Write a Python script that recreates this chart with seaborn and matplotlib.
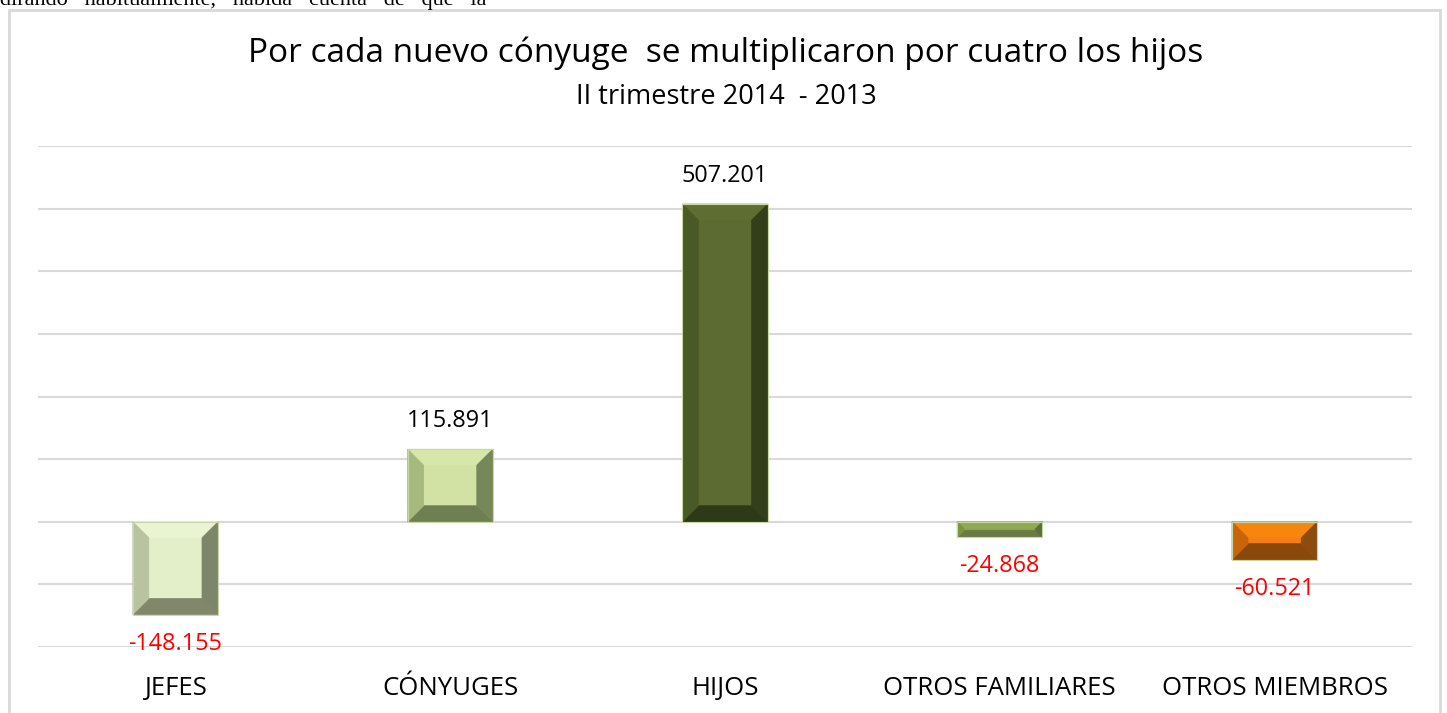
import matplotlib
matplotlib.use("Agg")
import matplotlib.pyplot as plt
from matplotlib.patches import Polygon, Rectangle
import seaborn as sns
import pandas as pd

# Datos
categorias = ['JEFES', 'CÓNYUGES', 'HIJOS', 'OTROS FAMILIARES', 'OTROS MIEMBROS']
variacion = [-148.155, 115.891, 507.201, -24.868, -60.521]
etiquetas = ['-148.155', '115.891', '507.201', '-24.868', '-60.521']

# Colores: centro, arriba, izquierda, derecha, abajo
colores = {
    'JEFES': ('#E3EFC9', '#EAF4D2', '#B9C3A0', '#7E866A', '#80876B'),
    'CÓNYUGES': ('#D2E1A4', '#D7E6AA', '#A6BA7F', '#76875A', '#6F7F52'),
    'HIJOS': ('#5B6B31', '#5E6E33', '#4A5A26', '#333F1B', '#2E3918'),
    'OTROS FAMILIARES': ('#8AA64E', '#8FAB52', '#7A9445', '#5E6E38', '#6B7A45'),
    'OTROS MIEMBROS': ('#F47E12', '#F7860F', '#C8650A', '#8C4C10', '#8A480B'),
}

sns.set_theme(style="white")
plt.rcParams['font.family'] = ['Open Sans', 'DejaVu Sans']
plt.rcParams['text.color'] = 'black'
plt.rcParams['xtick.color'] = 'black'
plt.rcParams['xtick.labelcolor'] = 'black'

df = pd.DataFrame({'categoria': categorias, 'valor': variacion})

W, H = 1447, 713
fig = plt.figure(figsize=(W / 100, H / 100), dpi=100)
fig.patch.set_facecolor('white')

# marco del gráfico
fig.patches.append(Rectangle((9 / W, -0.05), (1440 - 9) / W, (713 - 10) / H + 0.05,
                             transform=fig.transFigure, fill=False,
                             edgecolor='#D9D9D9', linewidth=2))

# texto del documento cortado arriba
fig.text(0.0, 1 - 5 / H, 'dirando   habitualmente,   habida   cuenta   de   que   la',
         family=['Liberation Serif', 'DejaVu Serif'], fontsize=16,
         ha='left', va='baseline')

ax = fig.add_axes([38 / W, (H - 647) / H, 1374 / W, (647 - 146) / H])
ax.set_facecolor('none')

sns.barplot(data=df, x='categoria', y='valor', hue='categoria',
            palette=[colores[c][0] for c in categorias], legend=False,
            width=0.31, ax=ax, saturation=1, linewidth=0)

ax.set_ylim(-200, 600)
ax.set_yticks(range(-200, 601, 100))
ax.yaxis.grid(True, color='#D9D9D9', linewidth=1.5)
ax.set_axisbelow(True)
ax.tick_params(axis='y', left=False, labelleft=False)
ax.tick_params(axis='x', bottom=False, pad=15, labelsize=18.5, labelcolor='black')
for s in ax.spines.values():
    s.set_visible(False)
ax.set_xlabel('')
ax.set_ylabel('')

# efecto biselado
to_disp = ax.transData
to_data = ax.transData.inverted()
for patch, cat in zip(ax.patches, categorias):
    x0, w = patch.get_x(), patch.get_width()
    y0, h = patch.get_y(), patch.get_height()
    (L, B1), (R, T1) = to_disp.transform([(x0, y0), (x0 + w, y0 + h)])
    B, T = min(B1, T1), max(B1, T1)
    d = min(16, (T - B) * 0.45, (R - L) / 2)
    c_centro, c_arr, c_izq, c_der, c_abj = colores[cat]
    caras = [
        ([(L, T), (R, T), (R - d, T - d), (L + d, T - d)], c_arr),
        ([(L, B), (R, B), (R - d, B + d), (L + d, B + d)], c_abj),
        ([(L, B), (L, T), (L + d, T - d), (L + d, B + d)], c_izq),
        ([(R, B), (R, T), (R - d, T - d), (R - d, B + d)], c_der),
    ]
    for pts, col in caras:
        ax.add_patch(Polygon(to_data.transform(pts), closed=True,
                             facecolor=col, edgecolor=col, linewidth=0.5, zorder=3))
    # borde claro del bisel
    ax.add_patch(Polygon(to_data.transform([(L, B), (R, B), (R, T), (L, T)]), closed=True,
                         fill=False, edgecolor='#C9D6A6', linewidth=0.8, zorder=4))

# etiquetas de datos
for i, (v, txt) in enumerate(zip(variacion, etiquetas)):
    if v >= 0:
        ax.annotate(txt, (i, v), xytext=(0, 28), textcoords='offset pixels',
                    ha='center', va='center', fontsize=16.8, color='black')
    else:
        ax.annotate(txt, (i, v), xytext=(0, -29), textcoords='offset pixels',
                    ha='center', va='center', fontsize=16.8, color='#FF0000')

fig.text(726 / W, 1 - 53 / H, 'Por cada nuevo cónyuge  se multiplicaron por cuatro los hijos',
         ha='center', va='center', fontsize=24, color='black')
fig.text(726 / W, 1 - 97 / H, 'II trimestre 2014  - 2013',
         ha='center', va='center', fontsize=19.5, color='black')

fig.savefig('out.png', dpi=100)
